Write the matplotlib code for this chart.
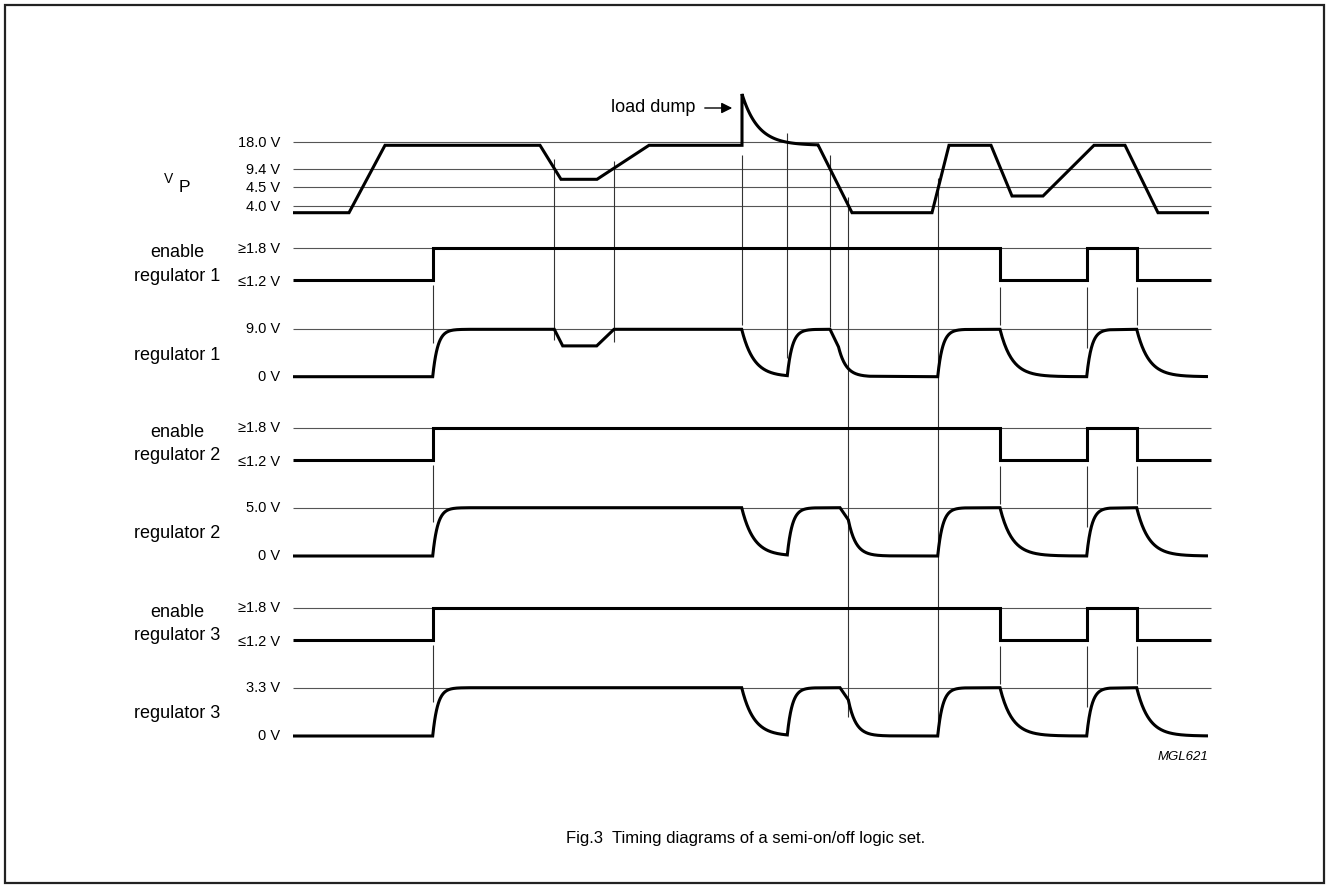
import numpy as np
import matplotlib.pyplot as plt
from matplotlib.patches import Rectangle

plt.rcParams['font.family'] = ['Liberation Sans', 'DejaVu Sans']

# horizontal extent of the traces (time units of the drawing)
t_start, t_end = 293, 1211

# reference levels of every row (vertical units, growing downwards)
vp_ref = [142.3, 168.7, 187.0, 206.3]
vp_ref_labels = ['18.0 V', '9.4 V', '4.5 V', '4.0 V']
en_high = [248.5, 428.3, 608.3]
en_low = [280.0, 459.5, 639.5]
reg_high = [329.3, 507.7, 687.7]
reg_low = [376.7, 556.0, 736.0]
reg_ref_labels = ['9.0 V', '5.0 V', '3.3 V']
row_names = ['regulator 1', 'regulator 2', 'regulator 3']

# V_P trace
vp_hi, vp_lo = 145.3, 212.7
vp_dip1, vp_dip2, vp_peak = 179.3, 196.0, 94.0
vp_t = [293, 349, 385, 540, 561, 597, 649, 742, 742, 818, 852, 932, 949,
        991, 1012, 1043, 1094, 1125, 1158, 1209]
vp_y = [vp_lo, vp_lo, vp_hi, vp_hi, vp_dip1, vp_dip1, vp_hi, vp_hi, vp_peak,
        vp_hi, vp_lo, vp_lo, vp_hi, vp_hi, vp_dip2, vp_dip2, vp_hi, vp_hi,
        vp_lo, vp_lo]
vp_k = ['l'] * 9 + ['p'] + ['l'] * 10

# enable inputs (same for all three regulators), 1 = high, 0 = low
en_t = [293, 432.7, 432.7, 1000, 1000, 1086.7, 1086.7, 1136.7, 1136.7, 1211]
en_state = [0, 0, 1, 1, 0, 0, 1, 1, 0, 0]

# regulator outputs as fraction of the nominal voltage
reg1_t = [293, 432.7, 470, 554.3, 562.7, 596.7, 614, 741.7, 787.3, 815, 830,
          838.5, 870, 937.7, 965, 1000, 1086.7, 1110, 1136.7, 1208]
reg1_v = [0, 0, 1, 1, 0.65, 0.65, 1, 1, 0, 1, 1, 0.63, 0, 0, 1, 1, 0, 1, 1, 0]
reg1_k = ['l', 'l', 'r', 'l', 'l', 'l', 'l', 'l', 'd', 'r', 'l', 'l', 'f',
          'l', 'r', 'l', 'd', 'r', 'l', 'd']
reg23_t = [293, 432.7, 470, 741.7, 787.3, 815, 840, 848.3, 890, 937.7, 965,
           1000, 1086.7, 1110, 1136.7, 1208]
reg23_v = [0, 0, 1, 1, 0, 1, 1, 0.75, 0, 0, 1, 1, 0, 1, 1, 0]
reg23_k = ['l', 'l', 'r', 'l', 'd', 'r', 'l', 'l', 'f', 'l', 'r', 'l', 'd',
           'r', 'l', 'd']

# thin vertical timing marks
mark_t = [432.7, 432.7, 432.7, 554.3, 614, 741.7, 787.3, 830, 848.3, 937.7,
          1000, 1086.7, 1136.7, 1000, 1086.7, 1136.7, 1000, 1086.7, 1136.7]
mark_top = [285, 465, 645, 159, 160.7, 155, 133, 155, 196.7, 178,
            286.7, 286.7, 286.7, 466, 466, 466, 646, 646, 646]
mark_bot = [343, 522, 702, 340, 341.7, 325, 358, 327, 717, 723,
            325, 348, 325, 504, 527, 504, 684, 707, 684]

taus = {'r': 5.0, 'd': 12.0, 'f': 7.5, 'p': 16.0}


def trace(ts, ys, kinds):
    xs, out = [ts[0]], [ys[0]]
    for t, y, k in zip(ts[1:], ys[1:], kinds[1:]):
        if k == 'l':
            xs.append(t)
            out.append(y)
        else:
            t0, y0 = xs[-1], out[-1]
            tt = np.linspace(t0, t, 80)
            yy = y + (y0 - y) * np.exp(-(tt - t0) / taus[k])
            xs.extend(tt[1:])
            out.extend(yy[1:])
    return xs, out


fig = plt.figure(figsize=(13.27, 8.88), dpi=100)
ax = fig.add_axes([0, 0, 1, 1])
ax.set_xlim(0, 1327)
ax.set_ylim(888, 0)
ax.axis('off')

ax.add_patch(Rectangle((5, 5), 1319, 878, fill=False, lw=1.6, ec='#222'))

thin = dict(color='#555', lw=0.8)
sig = dict(color='black', lw=2.2, solid_joinstyle='miter', solid_capstyle='butt')
tick_fs = 10.5
name_fs = 13

# reference lines
ax.hlines(vp_ref, t_start, t_end, **thin)
ax.hlines(en_high, t_start, t_end, **thin)
ax.hlines(reg_high, t_start, t_end, **thin)
ax.vlines(mark_t, mark_top, mark_bot, color='#333', lw=0.8)

# V_P
x, y = trace(vp_t, vp_y, vp_k)
ax.plot(x, y, **sig)
for lev, lab in zip(vp_ref, vp_ref_labels):
    ax.text(280, lev + 1, lab, ha='right', va='center', fontsize=tick_fs)
ax.text(169, 179, 'V', ha='center', va='center', fontsize=10)
ax.text(184, 187, 'P', ha='center', va='center', fontsize=12.5)

ax.annotate('', xy=(735, 108), xytext=(702, 108),
            arrowprops=dict(arrowstyle='-|>', color='black', lw=1,
                            mutation_scale=16))
ax.text(695, 108, 'load dump', ha='right', va='center', fontsize=name_fs)

for i in range(3):
    hi, lo = en_high[i], en_low[i]
    ey = [lo - s * (lo - hi) for s in en_state]
    ax.plot(en_t, ey, **sig)
    ax.text(280, hi, '≥1.8 V', ha='right', va='center', fontsize=tick_fs)
    ax.text(280, lo + 2, '≤1.2 V', ha='right', va='center', fontsize=tick_fs)
    ax.text(177, hi + 4, 'enable', ha='center', va='center', fontsize=name_fs)
    ax.text(177, lo - 4, row_names[i], ha='center', va='center', fontsize=name_fs)

    hi, lo = reg_high[i], reg_low[i]
    if i == 0:
        ts, vs, ks = reg1_t, reg1_v, reg1_k
    else:
        ts, vs, ks = reg23_t, reg23_v, reg23_k
    ry = [lo - v * (lo - hi) for v in vs]
    x, y = trace(ts, ry, ks)
    ax.plot(x, y, **sig)
    ax.text(280, hi, reg_ref_labels[i], ha='right', va='center', fontsize=tick_fs)
    ax.text(280, lo, '0 V', ha='right', va='center', fontsize=tick_fs)
    ax.text(177, (hi + lo) / 2 + 2, row_names[i], ha='center', va='center',
            fontsize=name_fs)

ax.text(1208, 757, 'MGL621', ha='right', va='center', fontsize=9.5,
        style='italic')
ax.text(566, 838, 'Fig.3  Timing diagrams of a semi-on/off logic set.',
        ha='left', va='center', fontsize=12)

fig.savefig('out.png', dpi=100)
